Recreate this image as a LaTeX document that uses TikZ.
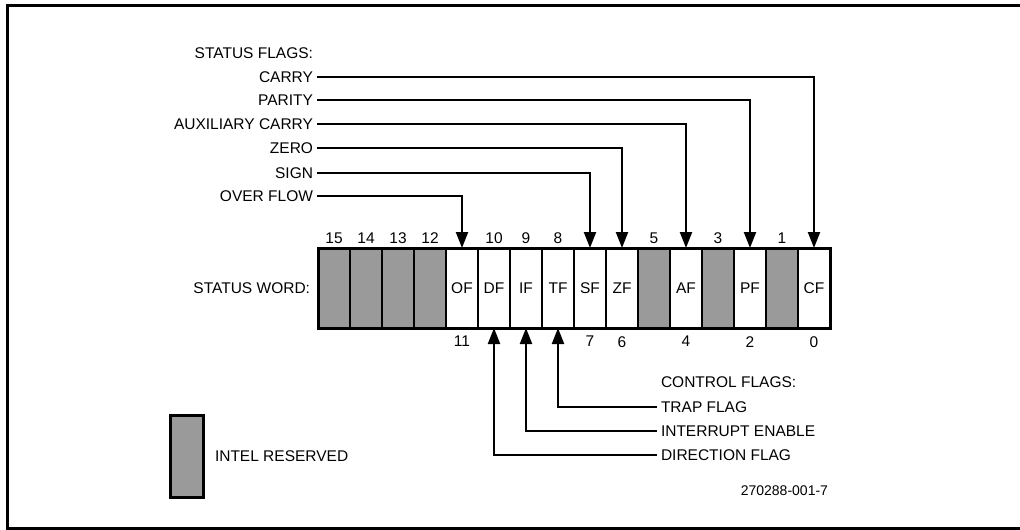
\documentclass[tikz,border=0pt]{standalone}
\usepackage{fontspec}
\setmainfont{Liberation Sans}
\usetikzlibrary{positioning, arrows.meta}
\definecolor{RsvdGray}{HTML}{9A9A9A}

\begin{document}
\begin{tikzpicture}[
    x=1pt, y=-1pt,
    font=\fontsize{15.5}{18}\selectfont,
    cell/.style={draw, line width=2pt, minimum width=32pt, minimum height=80pt, inner sep=0pt, outer sep=0pt},
    rsvd/.style={cell, fill=RsvdGray},
    bitnum/.style={inner sep=1pt},
    lbl/.style={inner sep=0pt, outer xsep=4pt},
    flagarrow/.style={line width=2.2pt, -{Triangle[width=12pt, length=16pt]}}
]

\useasboundingbox (0,0) rectangle (1020,530);
\clip (0,0) rectangle (1020,530);
\draw[line width=3pt] (7,5) rectangle (1030,528);

% status word
\node[rsvd] (b15) at (334,288) {};
\node[rsvd, right=0pt of b15] (b14) {};
\node[rsvd, right=0pt of b14] (b13) {};
\node[rsvd, right=0pt of b13] (b12) {};
\node[cell, right=0pt of b12] (b11) {OF};
\node[cell, right=0pt of b11] (b10) {DF};
\node[cell, right=0pt of b10] (b9) {IF};
\node[cell, right=0pt of b9] (b8) {TF};
\node[cell, right=0pt of b8] (b7) {SF};
\node[cell, right=0pt of b7] (b6) {ZF};
\node[rsvd, right=0pt of b6] (b5) {};
\node[cell, right=0pt of b5] (b4) {AF};
\node[rsvd, right=0pt of b4] (b3) {};
\node[cell, right=0pt of b3] (b2) {PF};
\node[rsvd, right=0pt of b2] (b1) {};
\node[cell, right=0pt of b1] (b0) {CF};
\draw[line width=3pt] (b15.north west) rectangle (b0.south east);

\node[lbl, left=4pt of b15] (stword) {STATUS WORD:};

% bit numbers
\node[bitnum, above=3.5pt of b15] {15};
\node[bitnum, above=3.5pt of b14] {14};
\node[bitnum, above=3.5pt of b13] {13};
\node[bitnum, above=3.5pt of b12] {12};
\node[bitnum, above=3.5pt of b10] {10};
\node[bitnum, above=3.5pt of b9] {9};
\node[bitnum, above=3.5pt of b8] {8};
\node[bitnum, above=3.5pt of b5] {5};
\node[bitnum, above=3.5pt of b3] {3};
\node[bitnum, above=3.5pt of b1] {1};
\node[bitnum, below=7pt of b11] {11};
\node[bitnum, below=7pt of b7] {7};
\node[bitnum, below=7pt of b6] {6};
\node[bitnum, below=7pt of b4] {4};
\node[bitnum, below=7pt of b2] {2};
\node[bitnum, below=7pt of b0] {0};

% status flags
\node[lbl, anchor=east] (stflags) at (317,53) {STATUS FLAGS:};
\node[lbl, anchor=east] (carry) at (317,77) {CARRY};
\node[lbl, anchor=east] (parity) at (317,100) {PARITY};
\node[lbl, anchor=east] (auxcarry) at (317,124) {AUXILIARY CARRY};
\node[lbl, anchor=east] (zero) at (317,148) {ZERO};
\node[lbl, anchor=east] (sign) at (317,173) {SIGN};
\node[lbl, anchor=east] (overflow) at (317,196) {OVER FLOW};

\draw[flagarrow] (carry.east) -| (b0.north);
\draw[flagarrow] (parity.east) -| (b2.north);
\draw[flagarrow] (auxcarry.east) -| (b4.north);
\draw[flagarrow] (zero.east) -| (b6.north);
\draw[flagarrow] (sign.east) -| (b7.north);
\draw[flagarrow] (overflow.east) -| (b11.north);

% control flags
\node[lbl, anchor=west] (ctrlflags) at (657,382) {CONTROL FLAGS:};
\node[lbl, anchor=west] (trap) at (657,407) {TRAP FLAG};
\node[lbl, anchor=west] (intr) at (657,431) {INTERRUPT ENABLE};
\node[lbl, anchor=west] (dirflag) at (657,455) {DIRECTION FLAG};

\draw[flagarrow] (trap.west) -| (b8.south);
\draw[flagarrow] (intr.west) -| (b9.south);
\draw[flagarrow] (dirflag.west) -| (b10.south);

% legend
\node[rsvd, line width=3pt, minimum width=33pt, minimum height=82pt] (legend) at (186.5,456) {};
\node[lbl, right=8pt of legend] (legendtxt) {INTEL RESERVED};

\node[lbl, anchor=east, font=\fontsize{14}{16}\selectfont] (figid) at (832,491) {270288-001-7};

\end{tikzpicture}
\end{document}
